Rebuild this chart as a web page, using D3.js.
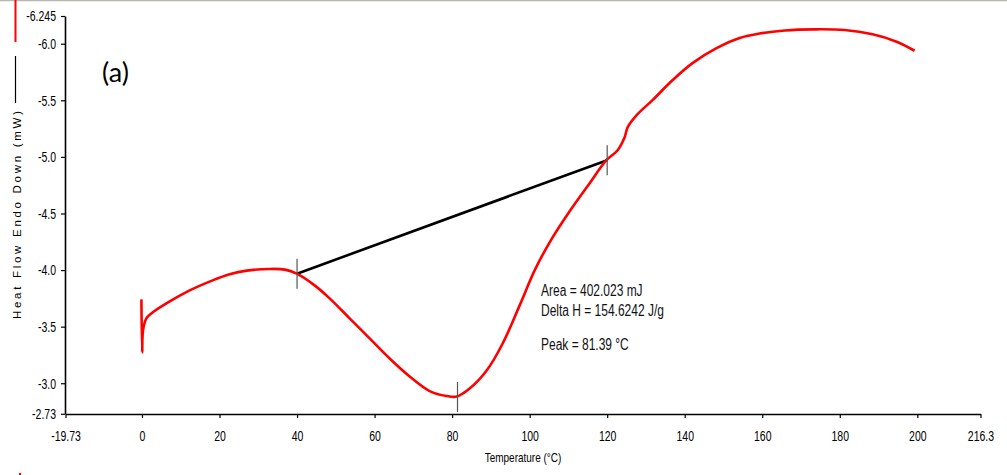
<!DOCTYPE html>
<html>
<head>
<meta charset="utf-8">
<script src="https://cdn.jsdelivr.net/npm/d3@7"></script>
<style>
  html, body { margin: 0; padding: 0; background: #fff; }
  svg { display: block; }
  text { font-family: "Liberation Sans", Arial, sans-serif; }
</style>
</head>
<body>
<svg id="s" width="1007" height="475"></svg>
<script>
// DSC trace
const temps = [-0.15, 0.05, 0.26, 1.13, 2.42, 6.29, 12.3, 18.23, 22.62, 27.01, 32.94, 36.84, 39.93,
  44.53, 48.41, 53.57, 58.73, 63.89, 69.05, 74.21, 78.59, 81.17, 84.52, 88.91, 93.04, 97.42,
  101.29, 105.16, 110.32, 115.48, 119.79, 122.7, 124.5, 125.3, 127.6, 131.7, 136.9, 142.0,
  148.2, 154.16, 159.32, 165.77, 173.5, 181.25, 188.47, 194.66, 199.3];
const heatFlow = [-3.741, -3.272, -3.466, -3.573, -3.617, -3.705, -3.82, -3.909, -3.963, -3.995, -4.01, -4.004, -3.968,
  -3.865, -3.75, -3.573, -3.396, -3.219, -3.06, -2.931, -2.887, -2.882, -2.953, -3.112, -3.351, -3.688,
  -3.997, -4.245, -4.519, -4.767, -4.971, -5.059, -5.174, -5.263, -5.369, -5.502, -5.679, -5.829,
  -5.962, -6.05, -6.09, -6.117, -6.127, -6.121, -6.083, -6.018, -5.938];

// integration baseline and markers
const baseTemps = [40, 120];
const baseVals = [-3.968, -4.971];
const markTemps = [40, 81.39, 120];
const markVals = [-3.968, -2.878, -4.971];

const xTickVals = [-19.73, 0, 20, 40, 60, 80, 100, 120, 140, 160, 180, 200, 216.3];
const xTickLabels = ['-19.73', '0', '20', '40', '60', '80', '100', '120', '140', '160', '180', '200', '216.3'];
const yTickVals = [-6.245, -6.0, -5.5, -5.0, -4.5, -4.0, -3.5, -3.0, -2.73];
const yTickLabels = ['-6.245', '-6.0', '-5.5', '-5.0', '-4.5', '-4.0', '-3.5', '-3.0', '-2.73'];

const notes = ['Area = 402.023 mJ', 'Delta H = 154.6242 J/g', 'Peak = 81.39 °C'];

const squeeze = 0.75; // narrow look of the instrument font
const svg = d3.select('#s');
const x = d3.scaleLinear().domain([-19.73, 216.3]).range([65.5, 980.5]);
const y = d3.scaleLinear().domain([-2.73, -6.245]).range([413.8, 16]);

// top frame line
svg.append('line')
  .attr('x1', 0).attr('x2', 1007).attr('y1', 0.5).attr('y2', 0.5)
  .attr('stroke', '#b8b8b0').attr('stroke-width', 1.5);

// legend strokes on the left
svg.append('line')
  .attr('x1', 15.5).attr('x2', 15.5).attr('y1', 0).attr('y2', 42)
  .attr('stroke', '#ff0000').attr('stroke-width', 2);
svg.append('line')
  .attr('x1', 15.5).attr('x2', 15.5).attr('y1', 56).attr('y2', 103)
  .attr('stroke', '#000').attr('stroke-width', 1.2);
svg.append('rect')
  .attr('x', 19).attr('y', 473).attr('width', 2).attr('height', 2)
  .attr('fill', '#ff0000');

// axes
const xAxis = d3.axisBottom(x).tickValues(xTickVals)
  .tickFormat((d, i) => xTickLabels[i]).tickSize(4).tickSizeOuter(0);
const yAxis = d3.axisLeft(y).tickValues(yTickVals)
  .tickFormat((d, i) => yTickLabels[i]).tickSize(4).tickSizeOuter(0);

const gx = svg.append('g').attr('transform', 'translate(0,414)').call(xAxis);
const gy = svg.append('g').attr('transform', 'translate(65,0)').call(yAxis);
[gx, gy].forEach(g => {
  g.attr('font-family', null);
  g.select('.domain').attr('stroke', '#000').attr('stroke-width', 1.6);
  g.selectAll('.tick line').attr('stroke', '#000').attr('stroke-width', 1.2);
  g.selectAll('.tick text')
    .attr('font-size', 14)
    .attr('fill', '#000')
    .attr('transform', `scale(${squeeze},1)`);
});
gx.selectAll('.tick text').attr('dy', null).attr('y', 27.5);
gy.selectAll('.tick text').attr('x', -9 / squeeze).attr('dy', '0.35em');

// axis titles
svg.append('text')
  .attr('transform', `translate(523,462) scale(${squeeze},1)`)
  .attr('text-anchor', 'middle')
  .attr('font-size', 13.3)
  .text('Temperature (°C)');

svg.append('text')
  .attr('transform', 'translate(21,215) rotate(-90)')
  .attr('text-anchor', 'middle')
  .attr('font-size', 11.5)
  .attr('textLength', 208)
  .attr('lengthAdjust', 'spacing')
  .text('Heat Flow Endo Down (mW)');

// panel tag
svg.append('text')
  .attr('x', 102).attr('y', 82)
  .style('font-family', 'Lato, "Open Sans", sans-serif')
  .attr('font-size', 27)
  .text('(a)');

// baseline
svg.append('line')
  .attr('x1', x(baseTemps[0])).attr('y1', y(baseVals[0]))
  .attr('x2', x(baseTemps[1])).attr('y2', y(baseVals[1]))
  .attr('stroke', '#000').attr('stroke-width', 2.6);

// curve
const line = d3.line()
  .x((d, i) => x(temps[i]))
  .y(d => y(d))
  .curve(d3.curveCatmullRom.alpha(0.5));
svg.append('path')
  .datum(heatFlow)
  .attr('d', line)
  .attr('fill', 'none')
  .attr('stroke', '#ff0000')
  .attr('stroke-width', 2.6)
  .attr('stroke-linejoin', 'round');

// marker ticks
svg.selectAll('line.mark')
  .data(markTemps)
  .enter()
  .append('line')
  .attr('class', 'mark')
  .attr('x1', d => x(d)).attr('x2', d => x(d))
  .attr('y1', (d, i) => y(markVals[i]) - 15)
  .attr('y2', (d, i) => y(markVals[i]) + 15)
  .attr('stroke', '#555')
  .attr('stroke-width', 1.2);

// annotation
const noteY = [296, 316, 350];
svg.selectAll('text.note')
  .data(notes)
  .enter()
  .append('text')
  .attr('class', 'note')
  .attr('transform', (d, i) => `translate(541,${noteY[i]}) scale(${squeeze},1)`)
  .attr('font-size', 16)
  .attr('fill', '#111')
  .text(d => d);
</script>
</body>
</html>
